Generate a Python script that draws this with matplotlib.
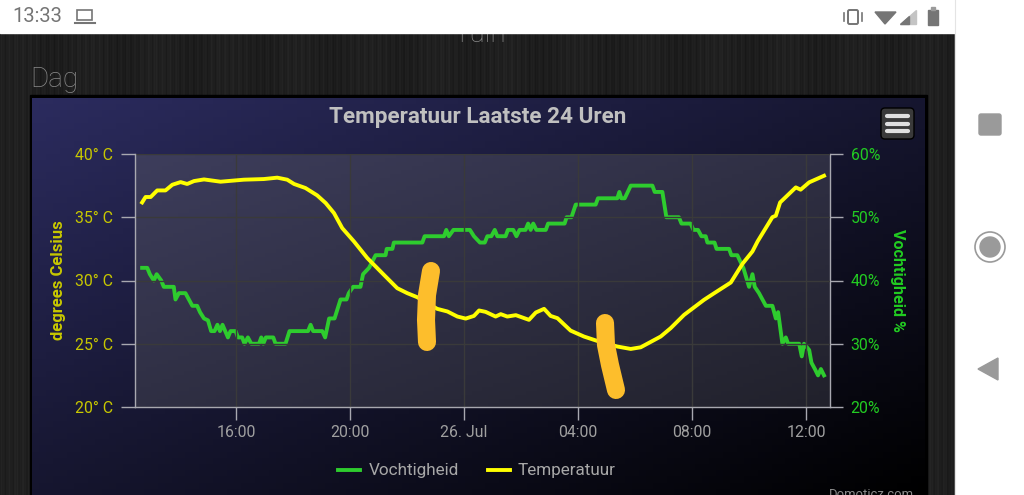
import numpy as np
import matplotlib
matplotlib.use("Agg")
import matplotlib.pyplot as plt
from matplotlib.patches import Rectangle, Circle, Polygon, FancyBboxPatch

plt.rcParams['font.family'] = ['Roboto', 'DejaVu Sans']

# hours counted from 00:00 on 25 Jul
temp_hours = [12.71, 12.83, 13.01, 13.24, 13.53, 13.77, 14.06, 14.29, 14.53, 14.88, 15.46, 16.28, 16.98,
              17.45, 17.80, 18.04, 18.44, 18.85, 19.15, 19.44, 19.73, 20.14, 20.61, 21.19, 21.66, 22.01,
              22.36, 23.06, 23.42, 23.77, 24.06, 24.35, 24.53, 24.76, 25.11, 25.29, 25.52, 25.82, 26.28,
              26.52, 26.81, 27.04, 27.28, 27.74, 28.21, 28.68, 29.38, 29.85, 30.2, 30.9, 31.25, 31.72,
              32.42, 32.78, 33.36, 33.77, 34.12, 34.3, 34.82, 34.94, 35.09, 35.64, 35.81, 36.11, 36.63]
temp_values = [36.17, 36.6, 36.6, 37.12, 37.12, 37.57, 37.78, 37.63, 37.86, 37.99, 37.81, 37.97, 38.02,
               38.13, 37.97, 37.63, 37.31, 36.73, 36.12, 35.33, 34.14, 33.09, 31.77, 30.45, 29.39, 29.0,
               28.68, 27.76, 27.55, 27.15, 26.99, 27.2, 27.63, 27.52, 27.15, 27.34, 27.15, 27.26, 26.89,
               27.47, 27.76, 27.2, 27.02, 26.04, 25.57, 25.22, 24.78, 24.59, 24.72, 25.57, 26.23, 27.28,
               28.47, 29.0, 29.84, 31.32, 32.3, 33.09, 35.01, 35.12, 36.17, 37.36, 37.18, 37.76, 38.28]

hum_hours = [12.71, 12.89, 12.98, 13.12, 13.22, 13.38, 13.47, 13.82, 13.88, 14.0, 14.23, 14.47, 14.64, 14.74,
             14.88, 15.02, 15.13, 15.25, 15.35, 15.44, 15.53, 15.72, 15.81, 15.99, 16.07, 16.22, 16.3, 16.42,
             16.54, 16.81, 16.89, 16.96, 17.05, 17.31, 17.39, 17.74, 17.88, 18.53, 18.62, 18.71, 19.03, 19.13,
             19.27, 19.46, 19.67, 19.88, 19.96, 20.11, 20.37, 20.46, 20.67, 20.9, 21.25, 21.29, 21.49, 21.54,
             22.54, 22.62, 23.3, 23.38, 23.47, 23.63, 24.21, 24.35, 24.56, 24.73, 24.82, 24.96, 25.08, 25.17,
             25.46, 25.54, 25.73, 25.84, 25.95, 26.16, 26.25, 26.34, 26.43, 26.54, 26.87, 26.95, 27.53, 27.6,
             27.77, 27.92, 28.62, 28.7, 29.38, 29.45, 29.52, 29.64, 29.85, 30.61, 30.69, 30.96, 31.1, 31.54,
             31.63, 31.95, 32.05, 32.21, 32.33, 32.48, 32.54, 32.79, 32.86, 33.3, 33.38, 33.59, 33.8, 34.0,
             34.12, 34.2, 34.35, 34.59, 34.82, 34.94, 35.02, 35.17, 35.29, 35.37, 35.76, 35.85, 35.93, 36.11,
             36.19, 36.31, 36.42, 36.52, 36.63]
hum_values = [42, 42, 41, 40, 41, 40, 39, 39, 37, 38, 38, 36, 36, 35,
              34, 33.7, 32, 32, 33, 32, 33, 31, 32, 32, 31, 31, 30, 31,
              30, 30, 31, 30, 31, 31, 30, 30, 32, 32, 33, 32, 32, 31,
              34, 34, 37, 37, 38, 39, 39, 41, 42, 44, 44, 45, 45, 46,
              46, 47, 47, 48, 47, 48, 48, 47, 46, 46, 47, 47, 48, 47,
              47, 48, 48, 47, 48, 48, 49, 48, 49, 48, 48, 49, 49, 50,
              50, 52, 52, 53, 53, 54, 53, 53, 55, 55, 54, 54, 50, 50,
              49, 49, 48, 48, 47, 47, 46, 46, 45, 45, 44, 44, 42, 39,
              41, 39, 38, 36, 36, 34, 35, 30, 31, 30, 30, 28, 30, 29,
              27, 26, 25, 26, 25]

hour_ticks = [16, 20, 24, 28, 32, 36]
hour_labels = ['16:00', '20:00', '26. Jul', '04:00', '08:00', '12:00']
temp_ticks = [20, 25, 30, 35, 40]
temp_labels = ['20° C', '25° C', '30° C', '35° C', '40° C']
hum_ticks = [20, 30, 40, 50, 60]
hum_labels = ['20%', '30%', '40%', '50%', '60%']

W, H = 1024, 495
fig = plt.figure(figsize=(W / 100, H / 100), dpi=100, facecolor='white')


def diagonal(c0, c1):
    yy, xx = np.mgrid[0:1:64j, 0:1:128j]
    t = ((xx + yy) / 2)[..., None]
    return np.array(c0) * (1 - t) + np.array(c1) * t


# backdrop in screen pixels
bg = fig.add_axes([0, 0, 1, 1], zorder=0)
bg.axis('off')
# wood panel is just fine vertical stripes
px = np.arange(955)
wood = 0.12 + 0.012 * np.sin(px * 0.9) + 0.009 * np.sin(px * 2.3) + 0.008 * np.sin(px * 0.09)
bg.imshow(wood[None, :], extent=(0, 955, 495, 33), aspect='auto', cmap='gray', vmin=0, vmax=1, zorder=1)
bg.add_patch(Rectangle((30, 95), 897, 400, color='black', zorder=1.1))
bg.imshow(diagonal((0.17, 0.17, 0.37), (0.0, 0.0, 0.0)), extent=(32, 925, 495, 98), aspect='auto', zorder=2)
bg.imshow(diagonal((0.24, 0.24, 0.36), (0.13, 0.13, 0.17)), extent=(135, 830, 407, 154), aspect='auto', zorder=3)
bg.set_xlim(0, W)
bg.set_ylim(H, 0)

bg.text(30, 87, 'Dag', color='#8a8a8a', fontsize=20, fontweight='light', va='baseline', zorder=4)
bg.text(480, 42, 'Tuin', color='#8a8a8a', fontsize=20, fontweight='light', ha='center', va='baseline', zorder=1.2)
bg.add_patch(Rectangle((0, 0), W, 33, color='white', zorder=1.5))
bg.add_patch(Rectangle((955, 0), 69, H, color='white', zorder=1.5))
bg.plot([955, 955], [0, H], color='#e4e4e4', lw=0.8, zorder=1.6)

# status bar and nav buttons
bg.text(12, 17, '13:33', color='#757575', fontsize=14.5, va='center', zorder=5)
bg.add_patch(Rectangle((77, 10), 15, 10, fill=False, ec='#757575', lw=1.2, zorder=5))
bg.plot([75, 95], [23, 23], color='#757575', lw=1.5, zorder=5)
bg.add_patch(FancyBboxPatch((848, 10), 10, 14, boxstyle='round,pad=0,rounding_size=1.5', fill=False, ec='#757575', lw=1.4, zorder=5))
bg.plot([844, 844], [13, 21], color='#757575', lw=1.2, zorder=5)
bg.plot([862, 862], [13, 21], color='#757575', lw=1.2, zorder=5)
bg.add_patch(Polygon([[875, 12], [896, 12], [885, 24]], color='#757575', zorder=5))
bg.add_patch(Polygon([[900, 24], [916, 24], [916, 10]], color='#c4c4c4', zorder=5))
bg.add_patch(Polygon([[900, 24], [909, 24], [909, 16]], color='#757575', zorder=5))
bg.add_patch(Rectangle((928, 10), 10, 15, color='#757575', zorder=5))
bg.add_patch(Rectangle((931, 7), 4, 3, color='#9a9a9a', zorder=5))
bg.add_patch(FancyBboxPatch((979, 114), 22, 21, boxstyle='round,pad=0,rounding_size=2', color='#9a9a9a', zorder=5))
bg.add_patch(Circle((990, 247), 15, fill=False, ec='#9a9a9a', lw=1.2, zorder=5))
bg.add_patch(Circle((990, 247), 10, color='#9a9a9a', zorder=5))
bg.add_patch(Polygon([[978, 369], [998, 358], [998, 380]], color='#9a9a9a', zorder=5))

# chart
left, right, top, bottom = 135, 830, 154, 407
ax = fig.add_axes([left / W, 1 - bottom / H, (right - left) / W, (bottom - top) / H], zorder=3)
ax.patch.set_visible(False)
ax2 = ax.twinx()
ax2.set_zorder(2)
ax.set_zorder(3)
ax2.patch.set_visible(False)

line_h, = ax2.plot(hum_hours, hum_values, color='#2ecc2e', lw=2.8, label='Vochtigheid', solid_joinstyle='round')
line_t, = ax.plot(temp_hours, temp_values, color='#ffff00', lw=2.8, label='Temperatuur', solid_joinstyle='round')

ax.set_xlim(12.46, 36.84)
ax.set_ylim(20, 40)
ax2.set_ylim(20, 60)
ax.set_xticks(hour_ticks, hour_labels)
ax.set_yticks(temp_ticks, temp_labels)
ax2.set_yticks(hum_ticks, hum_labels)
ax.grid(True, color='#3a3a3a', lw=1)
ax.set_axisbelow(True)

for a in (ax, ax2):
    a.spines['top'].set_visible(False)
    for s in ('left', 'right', 'bottom'):
        a.spines[s].set_color('#a8a8b0')
        a.spines[s].set_linewidth(1)
ax.spines['right'].set_visible(False)
ax2.spines['left'].set_visible(False)
ax2.spines['bottom'].set_visible(False)
ax.tick_params(axis='x', colors='#a0a0a0', labelsize=11.4, length=9, width=1, color='#a8a8b0', pad=4)
ax.tick_params(axis='y', labelcolor='#c8c800', labelsize=11.4, length=10, width=1, color='#a8a8b0', pad=5.5)
ax2.tick_params(axis='y', labelcolor='#22cc22', labelsize=11.4, length=9.4, width=1, color='#a8a8b0', pad=5.5)

ax.set_ylabel('degrees Celsius', color='#c8c800', fontsize=12, fontweight='bold')
ax2.set_ylabel('Vochtigheid %', color='#22cc22', fontsize=11.6, fontweight='bold', rotation=270, va='bottom')
ax.yaxis.set_label_coords(-0.0995, 0.5)
ax2.yaxis.set_label_coords(1.0865, 0.5)

fig.text(478 / W, 1 - 117.5 / H, 'Temperatuur Laatste 24 Uren', color='#c0c0c0', fontsize=16.2, fontweight='bold',
         ha='center', va='center')
fig.legend([line_h, line_t], ['Vochtigheid', 'Temperatuur'], loc='center', bbox_to_anchor=(477 / W, 1 - 471 / H),
           ncol=2, frameon=False, fontsize=12.3, labelcolor='#a8a8a8', handlelength=1.3, columnspacing=1.7,
           handletextpad=0.47)

# overlay: menu button, credit and the orange marker strokes
top_ax = fig.add_axes([0, 0, 1, 1], zorder=5)
top_ax.set_xlim(0, W)
top_ax.set_ylim(H, 0)
top_ax.axis('off')
top_ax.add_patch(FancyBboxPatch((881, 108), 33, 31, boxstyle='round,pad=0,rounding_size=4', fc='#3a3a3a', ec='black', lw=1))
for y in (116, 123.5, 131):
    top_ax.plot([887, 908], [y, y], color='#e0e0e0', lw=3, solid_capstyle='round')
top_ax.text(914, 494, 'Domoticz.com', color='#8a8a8a', fontsize=9.4, ha='right', va='center')
top_ax.plot([431, 427, 426, 427], [271, 295, 320, 342], color='#fdbe2c', lw=13, solid_capstyle='round')
top_ax.plot([605, 606, 610, 616], [323, 345, 365, 390], color='#fdbe2c', lw=13, solid_capstyle='round')

fig.savefig('out.png', dpi=100)
